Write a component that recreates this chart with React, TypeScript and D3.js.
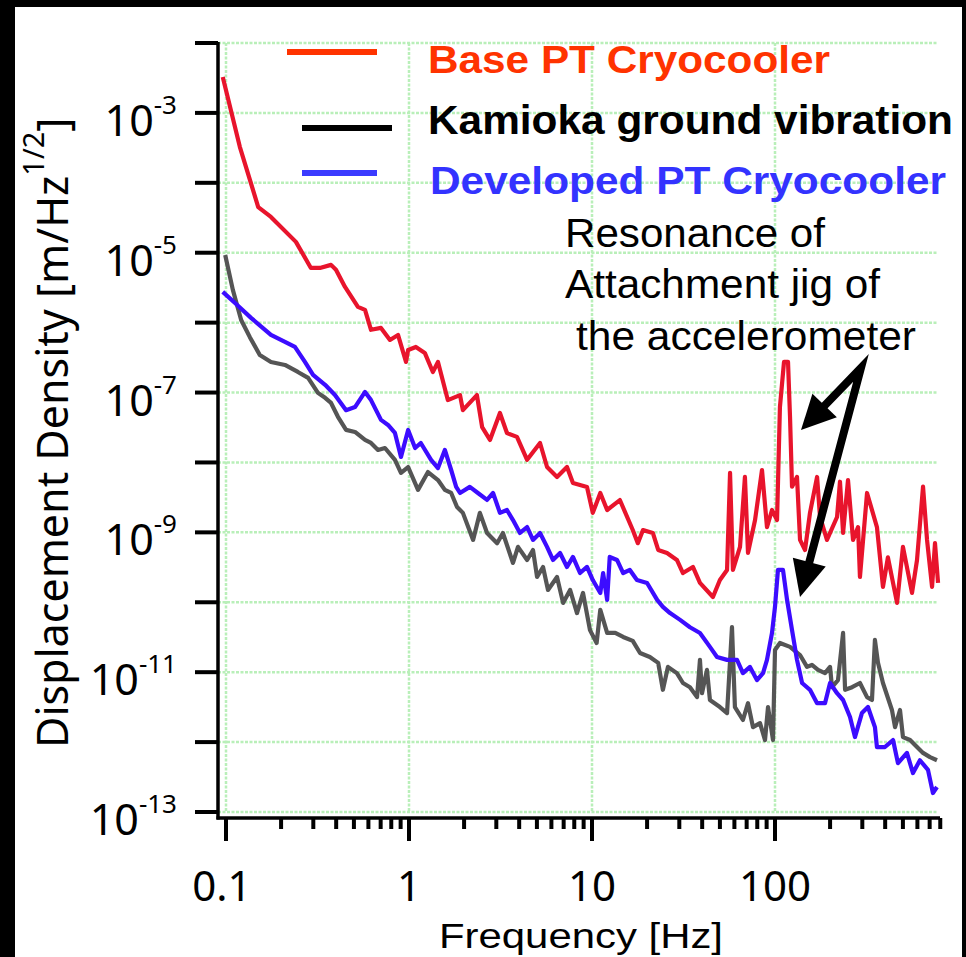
import React from 'react';
import * as d3 from 'd3';

const W = 966;
const H = 957;

// Base PT Cryocooler (red)
const baseFreq = [0.096, 0.119, 0.15, 0.176, 0.241, 0.291, 0.326, 0.375, 0.399, 0.447, 0.526, 0.575, 0.62, 0.703, 0.787, 0.871, 0.963, 0.989, 1.09, 1.22, 1.35, 1.44, 1.63, 1.9, 1.97, 2.35, 2.51, 2.77, 3.14, 3.43, 3.89, 4.42, 5.2, 5.68, 6.44, 7.3, 7.87, 9.39, 10.1, 11.1, 12.1, 14.2, 16.7, 17.8, 19.0, 21.5, 23.0, 25.7, 29.1, 31.4, 35.6, 38.9, 45.8, 50.0, 54.7, 56.8, 58.9, 64.4, 68.5, 71.2, 77.8, 84.9, 90.4, 96.3, 102.6, 106.4, 112.0, 117.8, 120.8, 123.9, 131.9, 137.0, 145.9, 155.3, 169.8, 176.2, 192.3, 218.3, 226.5, 235.5, 250.6, 266.9, 284.4, 291.2, 318.4, 360.6, 389.0, 414.0, 464.5, 500.3, 560.6, 597.0, 644.1, 677.4, 721.4, 748.7, 778.0];
const baseAmp = [3.27e-3, 3.27e-4, 4.5e-5, 3.25e-5, 1.43e-5, 6.06e-6, 6.06e-6, 6.7e-6, 5.7e-6, 3.24e-6, 1.68e-6, 1.52e-6, 7.9e-7, 8.4e-7, 5.66e-7, 6.67e-7, 2.74e-7, 4.07e-7, 4.49e-7, 3.69e-7, 1.97e-7, 2.74e-7, 7.8e-8, 9.2e-8, 5.6e-8, 9.2e-8, 3.2e-8, 2.1e-8, 5.1e-8, 2.64e-8, 2.32e-8, 1.09e-8, 1.9e-8, 8.6e-9, 6.2e-9, 8.6e-9, 5.1e-9, 4.46e-9, 1.9e-9, 3.66e-9, 2.09e-9, 2.9e-9, 1.08e-9, 7.0e-10, 1.08e-9, 9.8e-10, 5.6e-10, 5.07e-10, 4.03e-10, 2.62e-10, 3.2e-10, 1.89e-10, 1.19e-10, 2.08e-10, 2.9e-10, 7.1e-9, 2.9e-10, 6.2e-10, 6.2e-9, 5.1e-10, 1.5e-9, 7.8e-9, 1.19e-9, 2.09e-9, 1.5e-9, 6.2e-8, 2.74e-7, 2.74e-7, 4.5e-8, 4.5e-9, 6.2e-9, 7.8e-10, 5.6e-10, 1.9e-9, 6.2e-9, 1.66e-9, 7.8e-10, 1.66e-9, 5.3e-9, 9.8e-10, 5.6e-9, 7.8e-10, 1.19e-9, 2.3e-10, 3.66e-9, 1.19e-9, 1.66e-10, 4.4e-10, 9.8e-11, 6.2e-10, 1.36e-10, 4.0e-10, 4.5e-9, 7.8e-10, 1.66e-10, 7.0e-10, 1.89e-10];

// Kamioka ground vibration (gray)
const groundFreq = [0.099, 0.109, 0.121, 0.135, 0.153, 0.176, 0.21, 0.247, 0.281, 0.318, 0.348, 0.375, 0.409, 0.453, 0.507, 0.575, 0.62, 0.677, 0.739, 0.838, 0.904, 0.989, 1.12, 1.27, 1.44, 1.57, 1.7, 1.83, 1.97, 2.24, 2.44, 2.67, 3.03, 3.26, 3.7, 3.94, 4.42, 4.76, 5.01, 5.4, 5.75, 6.44, 6.95, 7.59, 8.28, 8.93, 9.75, 10.6, 11.1, 12.1, 13.4, 14.8, 16.7, 18.3, 20.7, 23.0, 24.4, 26.0, 29.1, 31.4, 34.3, 37.5, 38.9, 39.9, 42.5, 44.1, 50.0, 54.7, 58.2, 60.4, 66.8, 71.2, 75.8, 82.8, 88.2, 91.6, 97.5, 100, 106.4, 120.8, 137.0, 149.6, 159.2, 171.8, 187.6, 199.9, 204.8, 220.9, 235.5, 241.5, 263.8, 291.2, 318.4, 338.8, 351.6, 365.4, 389.0, 435.5, 452.9, 482.0, 500.3, 547.0, 597.0, 644.1, 703.1, 767.6];
const groundAmp = [9.3e-6, 2.94e-6, 1.09e-6, 6.2e-7, 3.45e-7, 2.74e-7, 2.48e-7, 1.97e-7, 1.62e-7, 9.9e-8, 8.4e-8, 7.1e-8, 4.5e-8, 2.92e-8, 2.73e-8, 2.1e-8, 1.9e-8, 1.51e-8, 1.61e-8, 1.09e-8, 7.1e-9, 8.6e-9, 4.05e-9, 7.3e-9, 5.6e-9, 4.05e-9, 3.66e-9, 2.31e-9, 1.9e-9, 7.8e-10, 1.9e-9, 9.8e-10, 7.0e-10, 9.8e-10, 3.65e-10, 6.2e-10, 4.03e-10, 5.6e-10, 2.3e-10, 3.2e-10, 1.5e-10, 2.3e-10, 9.8e-11, 1.5e-10, 7.0e-11, 1.36e-10, 4.0e-11, 2.62e-11, 7.8e-11, 3.64e-11, 3.64e-11, 3.19e-11, 2.8e-11, 1.88e-11, 1.65e-11, 1.36e-11, 5.6e-12, 1.19e-11, 9.7e-12, 7.0e-12, 6.1e-12, 4.4e-12, 1.5e-11, 5.0e-12, 1.08e-11, 4.0e-12, 3.17e-12, 2.6e-12, 4.4e-11, 3.17e-12, 2.07e-12, 3.6e-12, 1.64e-12, 1.87e-12, 1.07e-12, 3.17e-12, 1.07e-12, 2.08e-11, 2.62e-11, 2.3e-11, 1.76e-11, 1.19e-11, 1.27e-11, 1.08e-11, 9.7e-12, 1.19e-11, 6.1e-12, 7.7e-12, 3.64e-11, 5.6e-12, 6.1e-12, 7.0e-12, 4.4e-12, 4.0e-12, 2.89e-11, 1.36e-11, 7.0e-12, 2.88e-12, 1.64e-12, 2.88e-12, 1.18e-12, 1.07e-12, 8.5e-13, 7.0e-13, 6.1e-13, 5.5e-13];

// Developed PT Cryocooler (blue)
const devFreq = [0.096, 0.112, 0.137, 0.176, 0.21, 0.238, 0.27, 0.299, 0.348, 0.394, 0.453, 0.507, 0.575, 0.62, 0.703, 0.768, 0.838, 0.904, 0.989, 1.08, 1.16, 1.32, 1.44, 1.57, 1.7, 1.81, 1.9, 2.15, 2.38, 2.67, 2.88, 3.14, 3.43, 3.7, 4.04, 4.42, 4.76, 5.2, 5.68, 6.12, 6.69, 7.3, 7.87, 8.6, 9.39, 10.1, 11.1, 11.5, 12.1, 12.5, 13.7, 14.8, 16.1, 17.6, 20.0, 22.7, 24.4, 26.7, 30.3, 34.3, 38.9, 44.1, 48.2, 54.7, 62.0, 66.8, 73.0, 79.7, 86.0, 90.4, 96.3, 100, 103.8, 110.6, 116.4, 123.9, 131.9, 140.6, 155.3, 169.8, 187.6, 199.9, 218.3, 235.5, 257.0, 273.5, 298.5, 322.1, 351.6, 360.6, 398.9, 441.6, 469.8, 526.0, 567.5, 619.4, 685.5, 729.5, 767.6];
const devAmp = [2.75e-6, 1.91e-6, 1.17e-6, 6.7e-7, 5.3e-7, 4.49e-7, 2.74e-7, 1.79e-7, 1.29e-7, 9.2e-8, 5.6e-8, 6.2e-8, 1.02e-7, 7.8e-8, 4.06e-8, 3.44e-8, 2.64e-8, 1.2e-8, 2.92e-8, 1.61e-8, 1.9e-8, 1.09e-8, 8.3e-9, 1.51e-8, 7.8e-9, 4.47e-9, 3.66e-9, 4.47e-9, 3.66e-9, 2.91e-9, 3.66e-9, 1.9e-9, 2.09e-9, 1.5e-9, 9.8e-10, 1.19e-9, 7.8e-10, 9.8e-10, 6.2e-10, 4.03e-10, 5.07e-10, 3.2e-10, 4.45e-10, 2.62e-10, 3.2e-10, 2.08e-10, 1.36e-10, 2.62e-10, 1.08e-10, 4.45e-10, 4.03e-10, 2.62e-10, 2.9e-10, 2.08e-10, 1.89e-10, 1.08e-10, 8.6e-11, 7.0e-11, 5.6e-11, 4.4e-11, 3.64e-11, 2.3e-11, 1.65e-11, 1.5e-11, 1.5e-11, 9.7e-12, 1.19e-11, 7.7e-12, 9.7e-12, 1.5e-11, 3.64e-11, 8.6e-11, 2.9e-10, 2.9e-10, 1.08e-10, 4.0e-11, 1.5e-11, 7.0e-12, 5.6e-12, 3.6e-12, 3.6e-12, 7.0e-12, 5.0e-12, 4.0e-12, 2.29e-12, 1.18e-12, 2.6e-12, 3.17e-12, 1.64e-12, 8.5e-13, 8.5e-13, 1.07e-12, 5.0e-13, 7.0e-13, 3.6e-13, 5.5e-13, 4.0e-13, 1.87e-13, 2.28e-13];

const yTickExps = [-13, -12, -11, -10, -9, -8, -7, -6, -5, -4, -3, -2];
const yLabelExps = [-3, -5, -7, -9, -11, -13];
const xMajor = [0.1, 1, 10, 100];
const xMajorLabels = ['0.1', '1', '10', '100'];
const xDecades = [-1, 0, 1, 2];

const seriesNames = ['Base PT Cryocooler', 'Kamioka ground vibration', 'Developed PT Cryocooler'];
const seriesColors = ['#e8142c', '#555555', '#3c0cff'];
const legendLineColors = ['#ff3300', '#000000', '#3b3bff'];
const legendTextColors = ['#ff3300', '#000000', '#3333ff'];

const annotationLines = ['Resonance of', 'Attachment jig of', 'the accelerometer'];
// arrow apex and tips in data coordinates [Hz, m/Hz^1/2]
const arrowApex: [number, number] = [295, 2.25e-7];
const arrowTips: [number, number][] = [[138.7, 2.92e-8], [137, 1.19e-10]];

export default function App() {
  const x = d3.scaleLog().domain([0.1, 1000]).range([226, 958]);
  const y = d3.scaleLog().domain([1e-13, 1e-2]).range([812, 43]);

  const line = d3
    .line<[number, number]>()
    .x((d) => x(d[0]))
    .y((d) => y(d[1]));

  const series = [
    { freq: baseFreq, amp: baseAmp },
    { freq: groundFreq, amp: groundAmp },
    { freq: devFreq, amp: devAmp },
  ];

  const minorTicks: number[] = [];
  xDecades.forEach((n) => {
    for (let k = 2; k <= 9; k++) {
      const v = k * Math.pow(10, n);
      if (v <= 800) minorTicks.push(v);
    }
  });

  const plotLeft = 218;
  const plotRight = 938;
  const axisY = 818;
  const gridColor = '#b9efb9';

  const apex: [number, number] = [x(arrowApex[0]), y(arrowApex[1])];
  const arrows = arrowTips.map((t, i) => {
    const tip: [number, number] = [x(t[0]), y(t[1])];
    const dx = tip[0] - apex[0];
    const dy = tip[1] - apex[1];
    const len = Math.hypot(dx, dy);
    const ux = dx / len;
    const uy = dy / len;
    const headLen = i === 0 ? 34 : 36;
    const half = 17;
    const bx = tip[0] - ux * headLen;
    const by = tip[1] - uy * headLen;
    const p1 = [bx - uy * half, by + ux * half];
    const p2 = [bx + uy * half, by - ux * half];
    return { tip, base: [bx + ux * 2, by + uy * 2], head: `${tip[0]},${tip[1]} ${p1[0]},${p1[1]} ${p2[0]},${p2[1]}` };
  });

  return (
    <svg width={W} height={H} style={{ position: 'absolute', left: 0, top: 0 }}>
      <rect x={0} y={0} width={W} height={H} fill="#000" />
      <rect x={15} y={7} width={947} height={H - 7} fill="#fff" />

      {/* grid */}
      <g stroke={gridColor} strokeWidth={2.5} strokeDasharray="3,1.5" fill="none">
        {yTickExps.map((e) => (
          <line key={'hg' + e} x1={plotLeft} x2={plotRight} y1={y(Math.pow(10, e))} y2={y(Math.pow(10, e))} />
        ))}
        {xMajor.map((v) => (
          <line key={'vg' + v} x1={x(v)} x2={x(v)} y1={y(1e-2)} y2={y(1e-13)} />
        ))}
      </g>

      {/* data */}
      {series.map((s, i) => (
        <path
          key={seriesNames[i]}
          d={line(s.freq.map((f, j) => [f, s.amp[j]] as [number, number])) || ''}
          fill="none"
          stroke={seriesColors[i]}
          strokeWidth={4.2}
          strokeLinejoin="round"
        />
      ))}

      {/* axes */}
      <line x1={plotLeft} x2={plotLeft} y1={y(1e-2) - 1} y2={axisY + 1.5} stroke="#000" strokeWidth={3.5} />
      <line x1={216.5} x2={940} y1={axisY} y2={axisY} stroke="#000" strokeWidth={3.5} />
      {yTickExps.map((e) => (
        <line key={'yt' + e} x1={195} x2={plotLeft} y1={y(Math.pow(10, e))} y2={y(Math.pow(10, e))} stroke="#000" strokeWidth={4} />
      ))}
      {xMajor.map((v) => (
        <line key={'xt' + v} x1={x(v)} x2={x(v)} y1={axisY} y2={841} stroke="#000" strokeWidth={4} />
      ))}
      {minorTicks.map((v) => (
        <line key={'xm' + v} x1={x(v)} x2={x(v)} y1={axisY} y2={829} stroke="#000" strokeWidth={4} />
      ))}

      {/* y tick labels */}
      {yLabelExps.map((e) => (
        <text key={'yl' + e} x={177} y={y(Math.pow(10, e)) + 23} textAnchor="end" fontFamily="Noto Sans" fontSize={43} fill="#000">
          10
          <tspan dy={-22} fontSize={26}>{String(e)}</tspan>
        </text>
      ))}

      {/* x tick labels */}
      {xMajor.map((v, i) => (
        <text key={'xl' + v} x={x(v) - (i === 0 ? 4 : 0)} y={901} textAnchor="middle" fontFamily="Noto Sans" fontSize={42} fill="#000">
          {xMajorLabels[i]}
        </text>
      ))}

      {/* axis titles */}
      <text x={581} y={948} textAnchor="middle" fontFamily="Liberation Sans" fontSize={35} textLength={284} lengthAdjust="spacingAndGlyphs" fill="#000">
        Frequency [Hz]
      </text>
      <text transform="translate(68,748) rotate(-90)" fontFamily="Noto Sans" fontSize={43} fill="#000">
        Displacement Density [m/Hz
        <tspan dy={-24} fontSize={29}>1/2</tspan>
        <tspan dy={24}>]</tspan>
      </text>

      {/* legend */}
      <line x1={287} x2={377} y1={52} y2={52} stroke={legendLineColors[0]} strokeWidth={6} />
      <line x1={302} x2={392} y1={128} y2={128} stroke={legendLineColors[1]} strokeWidth={6} />
      <line x1={302} x2={377} y1={173} y2={173} stroke={legendLineColors[2]} strokeWidth={6} />
      <text x={428} y={73} fontFamily="Liberation Sans" fontWeight="bold" fontSize={39} textLength={402} lengthAdjust="spacingAndGlyphs" fill={legendTextColors[0]}>
        {seriesNames[0]}
      </text>
      <text x={428} y={134} fontFamily="Liberation Sans" fontWeight="bold" fontSize={40} textLength={525} lengthAdjust="spacingAndGlyphs" fill={legendTextColors[1]}>
        {seriesNames[1]}
      </text>
      <text x={430} y={194} fontFamily="Liberation Sans" fontWeight="bold" fontSize={39} textLength={516} lengthAdjust="spacingAndGlyphs" fill={legendTextColors[2]}>
        {seriesNames[2]}
      </text>

      {/* annotation */}
      <text x={565} y={247} fontFamily="Liberation Sans" fontSize={40} textLength={260} lengthAdjust="spacingAndGlyphs" fill="#000">
        {annotationLines[0]}
      </text>
      <text x={565} y={298} fontFamily="Liberation Sans" fontSize={40} textLength={315} lengthAdjust="spacingAndGlyphs" fill="#000">
        {annotationLines[1]}
      </text>
      <text x={576} y={350} fontFamily="Liberation Sans" fontSize={40} textLength={340} lengthAdjust="spacingAndGlyphs" fill="#000">
        {annotationLines[2]}
      </text>

      {/* arrows */}
      <path
        d={`M${arrows[0].base[0]},${arrows[0].base[1]} L${apex[0]},${apex[1]} L${arrows[1].base[0]},${arrows[1].base[1]}`}
        fill="none"
        stroke="#000"
        strokeWidth={8}
        strokeLinejoin="miter"
        strokeMiterlimit={10}
      />
      {arrows.map((a, i) => (
        <polygon key={'ah' + i} points={a.head} fill="#000" />
      ))}
    </svg>
  );
}
